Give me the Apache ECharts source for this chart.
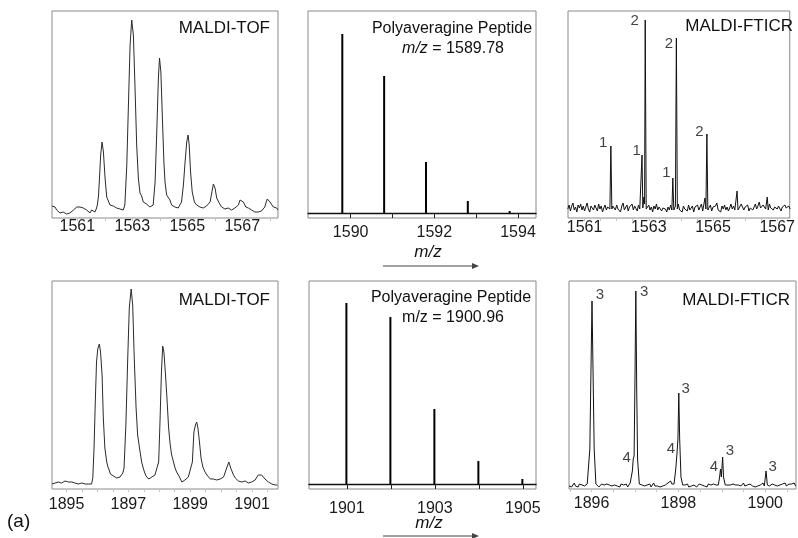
<!DOCTYPE html>
<html>
<head>
<meta charset="utf-8">
<script src="https://cdn.jsdelivr.net/npm/echarts@6/dist/echarts.min.js"></script>
<style>
  html, body { margin: 0; padding: 0; background: #ffffff; }
  #chart { width: 798px; height: 538px; }
</style>
</head>
<body>
<div id="chart"></div>
<script>
// ---------------- DATA ----------------
// MALDI-TOF, top row (m/z, intensity)
const tofTop = [
[1560.08,12],[1560.13,11],[1560.19,11],[1560.25,8],[1560.31,6],[1560.37,5],[1560.43,5],[1560.49,6],[1560.55,5],[1560.61,4],
[1560.67,4],[1560.73,5],[1560.80,5],[1560.86,8],[1560.92,9],[1560.98,11],[1561.04,12],[1561.10,11],[1561.16,11],[1561.22,10],
[1561.28,10],[1561.34,8],[1561.40,6],[1561.46,5],[1561.52,8],[1561.58,7],[1561.64,6],[1561.69,9],[1561.73,13],[1561.77,22],
[1561.80,36],[1561.85,63],[1561.90,76],[1561.95,66],[1562.01,40],[1562.07,21],[1562.13,20],[1562.19,13],[1562.25,12],[1562.31,12],
[1562.37,11],[1562.43,10],[1562.49,10],[1562.55,9],[1562.61,9],[1562.67,8],[1562.73,13],[1562.80,53],[1562.86,113],[1562.92,173],
[1562.98,198],[1563.04,183],[1563.10,130],[1563.16,73],[1563.22,40],[1563.28,25],[1563.34,22],[1563.40,16],[1563.46,15],[1563.52,14],
[1563.58,13],[1563.64,11],[1563.70,9],[1563.76,13],[1563.83,36],[1563.89,86],[1563.95,140],[1563.99,160],[1564.04,146],[1564.10,96],
[1564.15,56],[1564.19,36],[1564.25,23],[1564.31,22],[1564.37,18],[1564.43,13],[1564.49,11],[1564.55,11],[1564.61,10],[1564.67,10],
[1564.73,11],[1564.79,16],[1564.86,33],[1564.92,56],[1564.98,76],[1565.03,83],[1565.07,73],[1565.12,46],[1565.18,26],[1565.26,16],
[1565.34,13],[1565.40,12],[1565.46,11],[1565.52,10],[1565.58,10],[1565.64,11],[1565.70,12],[1565.77,13],[1565.83,16],[1565.89,25],
[1565.95,34],[1566.01,30],[1566.07,20],[1566.16,15],[1566.25,11],[1566.31,10],[1566.37,9],[1566.43,11],[1566.49,10],[1566.55,9],
[1566.61,8],[1566.67,9],[1566.73,10],[1566.80,11],[1566.86,13],[1566.92,18],[1566.98,19],[1567.04,16],[1567.13,11],[1567.22,10],
[1567.28,9],[1567.34,8],[1567.40,7],[1567.46,6],[1567.52,6],[1567.58,6],[1567.64,7],[1567.70,7],[1567.76,9],[1567.82,11],
[1567.87,16],[1567.91,19],[1568.01,16],[1568.13,11],[1568.25,10],[1568.30,8]
];

// MALDI-TOF, bottom row
const tofBottom = [
[1894.53,5],[1894.58,4],[1894.63,6],[1894.68,5],[1894.73,7],[1894.79,6],[1894.84,6],[1894.90,7],[1894.95,8],[1895.00,6],
[1895.06,7],[1895.11,8],[1895.17,7],[1895.22,6],[1895.27,6],[1895.33,5],[1895.38,5],[1895.44,6],[1895.49,6],[1895.55,5],
[1895.60,5],[1895.65,4],[1895.70,5],[1895.76,5],[1895.81,5],[1895.85,11],[1895.89,41],[1895.93,87],[1895.97,127],[1896.01,140],
[1896.06,145],[1896.10,137],[1896.15,114],[1896.19,71],[1896.24,41],[1896.30,27],[1896.34,22],[1896.38,19],[1896.42,15],[1896.46,14],
[1896.52,13],[1896.57,12],[1896.62,11],[1896.68,12],[1896.73,12],[1896.78,14],[1896.82,16],[1896.86,21],[1896.92,64],[1896.98,131],
[1897.03,181],[1897.09,200],[1897.14,184],[1897.19,131],[1897.25,81],[1897.30,54],[1897.36,41],[1897.43,27],[1897.48,21],[1897.52,17],
[1897.57,13],[1897.61,11],[1897.66,10],[1897.70,10],[1897.76,12],[1897.81,14],[1897.86,14],[1897.92,15],[1897.98,27],[1898.02,64],
[1898.07,117],[1898.11,143],[1898.15,137],[1898.20,115],[1898.25,90],[1898.30,62],[1898.35,45],[1898.40,34],[1898.46,27],[1898.51,21],
[1898.56,17],[1898.62,14],[1898.67,11],[1898.73,7],[1898.78,7],[1898.83,9],[1898.89,11],[1898.94,12],[1899.00,14],[1899.07,27],
[1899.12,57],[1899.17,64],[1899.21,67],[1899.25,61],[1899.30,47],[1899.35,31],[1899.41,22],[1899.48,17],[1899.54,14],[1899.59,12],
[1899.65,10],[1899.70,9],[1899.75,10],[1899.80,10],[1899.86,9],[1899.91,9],[1899.97,10],[1900.02,11],[1900.08,12],[1900.13,14],
[1900.18,21],[1900.25,27],[1900.31,21],[1900.40,14],[1900.46,11],[1900.51,10],[1900.56,8],[1900.61,7],[1900.67,7],[1900.72,7],
[1900.78,8],[1900.83,7],[1900.88,6],[1900.94,6],[1900.99,7],[1901.04,7],[1901.10,9],[1901.15,11],[1901.20,14],[1901.24,16],
[1901.31,14],[1901.36,12],[1901.42,10],[1901.48,8],[1901.53,7],[1901.59,6],[1901.64,5],[1901.70,4],[1901.75,4],[1901.82,4]
];

// Theoretical isotope sticks (m/z, relative abundance)
const theoTop = [[1589.80,179],[1590.80,137],[1591.80,51],[1592.80,12],[1593.80,2]];
const theoBottom = [[1900.99,181],[1901.99,167],[1902.99,75],[1903.99,23],[1904.99,5]];

// MALDI-FTICR top: baseline noise sampled from 1560.48 every 0.04
const fticrTopStart = 1560.48, fticrTopStep = 0.04;
const fticrTopNoise = [
9,13,7,12,15,8,11,6,13,10, 14,8,12,7,11,15,9,6,12,10, 8,13,11,7,14,9,12,6,10,13,
8,11,9,14,7,12,10,8,13,9, 11,6,12,15,8,10,13,7,11,9, 14,8,12,10,7,13,9,16,11,8,
12,7,10,13,8,11,6,12,9,14, 8,11,13,7,10,12,9,6,11,8, 13,10,7,12,9,11,14,8,10,6,
12,9,11,7,13,8,10,12,6,11, 9,13,8,10,14,7,11,9,12,8, 10,13,7,11,9,12,15,8,10,6,
12,9,13,8,11,7,10,14,9,12, 8,11,13,9,10,14,12,8,11,9, 13,7,10,12,8,11,14,9,12,16,
10,8,13,11,9,12,7,14,10,12, 8,11,13,9,12,10,7,11,9,13, 10,8,12,9
];
const fticrTopPeaks = [
  [[1561.79,9],[1561.82,72],[1561.85,9]],
  [[1562.76,9],[1562.79,63],[1562.815,10],[1562.85,21],[1562.87,14],[1562.89,198],[1562.92,9]],
  [[1563.72,8],[1563.75,40],[1563.78,8],[1563.83,12],[1563.86,180],[1563.89,9]],
  [[1564.72,9],[1564.75,20],[1564.78,9],[1564.81,84],[1564.84,8]],
  [[1565.72,9],[1565.75,27],[1565.78,8]],
  [[1566.66,9],[1566.69,21],[1566.72,8]]
];
// peak-number annotations [m/z, intensity, text]
const fticrTopLabels = [
  [1562.56,197,'2'],[1563.63,174,'2'],[1564.58,86,'2'],
  [1561.58,75,'1'],[1562.62,67,'1'],[1563.55,45,'1']
];

// MALDI-FTICR bottom: baseline noise sampled from 1895.48 every 0.03
const fticrBotStart = 1895.48, fticrBotStep = 0.03;
const fticrBotNoise = [
3,5,2,4,6,3,4,2,5,3, 4,6,3,2,5,4,3,5,2,4, 3,5,4,2,3,5,3,4,2,5,
3,4,6,3,2,4,5,3,4,2, 5,3,4,3,5,2,4,6,3,4, 3,5,2,4,3,5,4,2,3,5,
4,3,5,2,4,6,3,4,3,5, 2,4,3,5,4,3,6,4,8,5, 4,3,5,4,3,2,4,5,3,4,
3,5,2,4,3,5,4,3,2,4, 5,3,4,6,3,4,2,5,3,4, 6,5,7,4,6,3,4,5,3,4,
3,5,4,2,4,3,5,3,4,2, 4,5,3,4,6,3,5,4,3,5, 4,3,5,2,4,3,5,4,3,6,
3,4,2,5,3,4,5,3,4,6, 3,5,4,3,5,4,6,3,4,5, 3,5,4,6,3
];
const fticrBotPeaks = [
  [[1895.92,4],[1895.96,40],[1895.98,100],[1896.01,188],[1896.04,100],[1896.06,40],[1896.10,5]],
  [[1896.90,4],[1896.94,18],[1896.96,30],[1896.98,33],[1897.00,110],[1897.02,198],[1897.04,100],[1897.06,30],[1897.10,5]],
  [[1897.90,5],[1897.94,20],[1897.97,37],[1897.99,50],[1898.01,96],[1898.03,50],[1898.06,12],[1898.10,4]],
  [[1898.92,4],[1898.95,12],[1898.97,20],[1898.99,12],[1899.02,32],[1899.04,12],[1899.08,4]],
  [[1899.99,4],[1900.02,18],[1900.05,4]]
];
const fticrBotLabels = [
  [1896.19,194,'3'],[1897.21,197,'3'],[1898.17,100,'3'],[1899.19,38,'3'],[1900.17,22,'3'],
  [1896.81,31,'4'],[1897.83,40,'4'],[1898.82,22,'4']
];

// Tick labels
const ticksTop1 = [1561,1563,1565,1567];
const ticksTop2 = [1590,1592,1594];
const ticksTop3 = [1561,1563,1565,1567];
const ticksBot1 = [1895,1897,1899,1901];
const ticksBot2 = [1901,1903,1905];
const ticksBot3 = [1896,1898,1900];
const minorTop1 = [1560.5,1561,1561.5,1562,1562.5,1563,1563.5,1564,1564.5,1565,1565.5,1566,1566.5,1567,1567.5,1568];
const minorTop2 = [1590,1591,1592,1593,1594];
const minorTop3 = [1561,1561.5,1562,1562.5,1563,1563.5,1564,1564.5,1565,1565.5,1566,1566.5,1567];
const minorBot1 = [1895,1895.5,1896,1896.5,1897,1897.5,1898,1898.5,1899,1899.5,1900,1900.5,1901,1901.5];
const minorBot2 = [1901,1902,1903,1904,1905];
const minorBot3 = [1895.5,1896,1896.5,1897,1897.5,1898,1898.5,1899,1899.5,1900,1900.5];

// ---------------- BUILD ----------------
function buildTrace(start, step, noise, peakGroups) {
  const pts = [];
  noise.forEach((v, i) => {
    const x = Math.round((start + i * step) * 1000) / 1000;
    const inPeak = peakGroups.some(g => x >= g[0][0] && x <= g[g.length - 1][0]);
    if (!inPeak) pts.push([x, v]);
  });
  peakGroups.forEach(g => g.forEach(p => pts.push(p)));
  pts.sort((a, b) => a[0] - b[0]);
  return pts;
}

const FONT = 'Liberation Sans, Arial, Helvetica, sans-serif';
const BORDER = '#8a8a8a';

const grids = [
  { left: 52,  top: 11,  width: 226, height: 207 },
  { left: 308, top: 11,  width: 228, height: 207 },
  { left: 568, top: 11,  width: 228, height: 207 },
  { left: 52,  top: 281, width: 226, height: 208 },
  { left: 309, top: 281, width: 227, height: 208 },
  { left: 569, top: 281, width: 227, height: 208 }
].map(g => Object.assign({ show: true, borderColor: BORDER, borderWidth: 1, backgroundColor: 'transparent' }, g));

function xAx(i, min, max, labels, ticks, margin, stick) {
  return {
    type: 'value', gridIndex: i, min: min, max: max,
    splitLine: { show: false },
    axisLine: stick ? { show: true, onZero: true, lineStyle: { color: '#111', width: 1.3 } } : { show: false },
    axisTick: { show: true, customValues: ticks, length: stick ? 5 : 3, lineStyle: { color: stick ? '#222' : '#c4c4c4', width: 1 } },
    axisLabel: { customValues: labels, fontSize: 16, color: '#1a1a1a', fontFamily: FONT, margin: margin,
                 formatter: v => String(Math.round(v)) }
  };
}
function yAx(i, min, max) {
  return { type: 'value', gridIndex: i, min: min, max: max, show: false, splitLine: { show: false } };
}

const xAxes = [
  xAx(0, 1560.08, 1568.30, ticksTop1, minorTop1, 1, false),
  xAx(1, 1588.98, 1594.43, ticksTop2, minorTop2, 7, true),
  xAx(2, 1560.485, 1567.39, ticksTop3, minorTop3, 2, false),
  xAx(3, 1894.53, 1901.84, ticksBot1, minorBot1, 8, false),
  xAx(4, 1900.14, 1905.30, ticksBot2, minorBot2, 12, true),
  xAx(5, 1895.48, 1900.71, ticksBot3, minorBot3, 7, false)
];
const yAxes = [
  yAx(0, 0, 207), yAx(1, -5, 202), yAx(2, 0, 207),
  yAx(3, 0, 208), yAx(4, -5, 203), yAx(5, 0, 208)
];

function lineSeries(i, data, color) {
  return {
    type: 'line', xAxisIndex: i, yAxisIndex: i, data: data,
    showSymbol: false, symbol: 'none', smooth: false,
    lineStyle: { color: color, width: 1 }, silent: true, clip: true
  };
}
function stickSeries(i, data) {
  return {
    type: 'bar', xAxisIndex: i, yAxisIndex: i, data: data, barWidth: 2,
    itemStyle: { color: '#000' }, silent: true
  };
}
function labelSeries(i, data) {
  return {
    type: 'scatter', xAxisIndex: i, yAxisIndex: i, symbolSize: 1,
    itemStyle: { color: 'rgba(0,0,0,0)' },
    data: data.map(d => ({ value: [d[0], d[1]], name: d[2] })),
    label: { show: true, position: 'inside', formatter: p => p.name, fontSize: 15, color: '#111', fontFamily: FONT },
    silent: true
  };
}

const series = [
  lineSeries(0, tofTop, '#2b2b2b'),
  stickSeries(1, theoTop),
  lineSeries(2, buildTrace(fticrTopStart, fticrTopStep, fticrTopNoise, fticrTopPeaks), '#111'),
  labelSeries(2, fticrTopLabels),
  lineSeries(3, tofBottom, '#2b2b2b'),
  stickSeries(4, theoBottom),
  lineSeries(5, buildTrace(fticrBotStart, fticrBotStep, fticrBotNoise, fticrBotPeaks), '#111'),
  labelSeries(5, fticrBotLabels)
];

function txt(text, x, y, align, size, extra) {
  return {
    type: 'text', silent: true,
    style: Object.assign({
      text: text, x: x, y: y, fill: '#111',
      font: (extra && extra.italic ? 'italic ' : '') + size + 'px ' + FONT,
      fontSize: size, fontFamily: FONT, fontStyle: (extra && extra.italic) ? 'italic' : 'normal',
      align: align, textAlign: align, verticalAlign: 'middle', textVerticalAlign: 'middle'
    }, extra && extra.rich ? { rich: extra.rich } : {})
  };
}
function arrow(x1, x2, y) {
  return [
    { type: 'line', silent: true, shape: { x1: x1, y1: y, x2: x2 - 6, y2: y }, style: { stroke: '#444', lineWidth: 1 } },
    { type: 'polygon', silent: true, shape: { points: [[x2 - 7, y - 3], [x2, y], [x2 - 7, y + 3]] }, style: { fill: '#444' } }
  ];
}

const italicRich = { i: { fontStyle: 'italic', fontSize: 16, fontFamily: FONT, fill: '#111' }, n: { fontSize: 16, fontFamily: FONT, fill: '#111' } };

const graphics = [
  txt('MALDI-TOF', 270, 28, 'right', 17),
  txt('MALDI-TOF', 270, 300, 'right', 17),
  txt('MALDI-FTICR', 793, 26, 'right', 17),
  txt('MALDI-FTICR', 790, 300, 'right', 17),
  txt('Polyaveragine Peptide', 452, 29, 'center', 16),
  txt('{i|m/z}{n| = 1589.78}', 453, 49, 'center', 16, { rich: italicRich }),
  txt('Polyaveragine Peptide', 451, 298, 'center', 16),
  txt('m/z = 1900.96', 453, 318, 'center', 16),
  txt('m/z', 428, 252, 'center', 17, { italic: true }),
  txt('m/z', 429, 523, 'center', 17, { italic: true }),
  txt('(a)', 7, 522, 'left', 19)
].concat(arrow(383, 479, 266)).concat(arrow(383, 479, 536));

const chart = echarts.init(document.getElementById('chart'), null, { renderer: 'canvas' });
chart.setOption({
  backgroundColor: '#ffffff',
  animation: false,
  grid: grids,
  xAxis: xAxes,
  yAxis: yAxes,
  series: series,
  graphic: { elements: graphics }
});
</script>
</body>
</html>
